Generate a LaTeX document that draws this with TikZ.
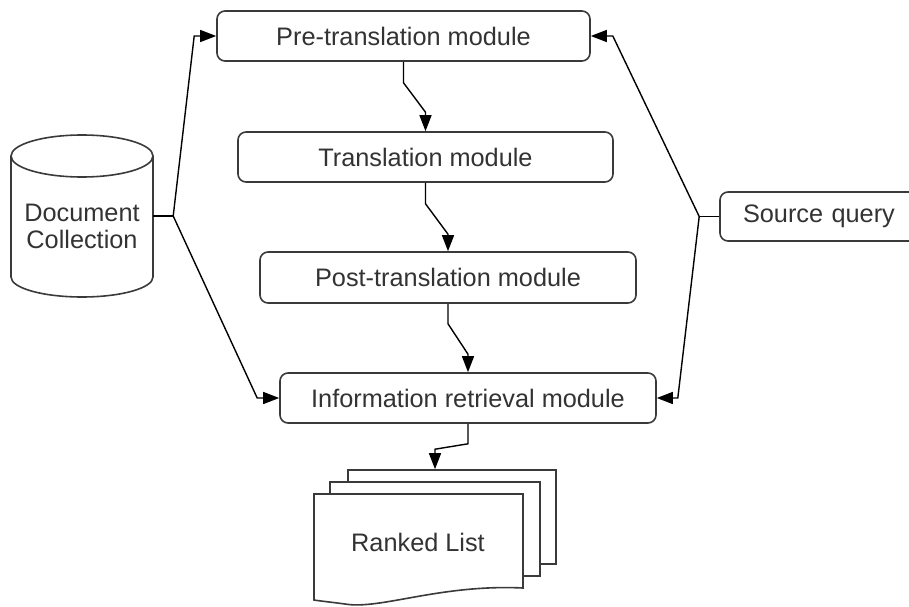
\documentclass[tikz,border=0pt]{standalone}
\usepackage{fontspec}
\setmainfont{Liberation Sans}
\usetikzlibrary{arrows.meta,calc}
\definecolor{edge}{HTML}{3A3A3A}
\definecolor{ink}{HTML}{333333}
\tikzset{
  module/.style={draw=edge, line width=1.6pt, rounded corners=8pt, fill=white,
    text=ink, font=\fontsize{25.3}{29}\selectfont, inner sep=0pt},
  conn/.style={draw=black, line width=1.4pt, -{Triangle[length=16pt,width=12pt]}},
  link/.style={draw=black, line width=1.4pt},
  page/.style={draw=edge, line width=1.6pt, fill=white},
}
\begin{document}
\begin{tikzpicture}[x=1pt,y=1pt]
\useasboundingbox (0,0) rectangle (909,606);
\clip (0,0) rectangle (909,606);

% pipeline modules
\node[module, minimum width=373pt, minimum height=50pt] (pre)   at (403.5,570) {Pre-translation module};
\node[module, minimum width=375pt, minimum height=50pt] (trans) at (425.5,449) {Translation module};
\node[module, minimum width=376pt, minimum height=51pt] (post)  at (448,328.5) {Post-translation module};
\node[module, minimum width=376pt, minimum height=50pt] (ir)    at (468,208)   {Information retrieval module};
\node[module, minimum width=215pt, minimum height=49pt, text width=215pt, align=left] (src) at (827.5,389.5)
  {\hspace*{23pt}Source query};

% document collection drawn as a cylinder
\node[minimum width=142pt, minimum height=162pt, inner sep=0pt] (doc) at (82,390) {};
\draw[page] (11,450) -- (11,329) arc[start angle=180, end angle=360, x radius=71, y radius=20]
  -- (153,450);
\draw[page] (82,450) ellipse[x radius=71, y radius=21];
\node[text=ink, font=\fontsize{25.3}{27}\selectfont, align=center] (doctext) at (82,380)
  {Document\\Collection};

% ranked list: stack of pages
\node[page, minimum width=208pt, minimum height=94pt, inner sep=0pt] (rlback) at (452,89) {};
\node[page, minimum width=210pt, minimum height=94pt, inner sep=0pt] (rlmid)  at (435,77) {};
\draw[page] (314,112) -- (523,112) -- (523,18)
  .. controls (440,22) and (380,-4) .. (345,2)
  .. controls (330,4) and (320,5) .. (314,6) -- cycle;
\node[text=ink, font=\fontsize{25.3}{29}\selectfont] (rltext) at (418,64) {Ranked List};

% inputs fanning out to the first and last module
\draw[link] (doc.east) -- ++(20,0) coordinate (dj);
\draw[conn] (dj) -- ($(pre.west)+(-22,0)$) -- (pre.west);
\draw[conn] (dj) -- ($(ir.west)+(-22,0)$) -- (ir.west);
\draw[link] (src.west) -- ++(-20,0) coordinate (sj);
\draw[conn] (sj) -- ($(pre.east)+(22,0)$) -- (pre.east);
\draw[conn] (sj) -- ($(ir.east)+(21,0)$) -- (ir.east);

% module chain
\draw[conn] (pre.south) -- ++(0,-21) -- ($(trans.north)+(0,19)$) -- (trans.north);
\draw[conn] (trans.south) -- ++(0,-21) -- ($(post.north)+(0,17)$) -- (post.north);
\draw[conn] (post.south) -- ++(0,-20) -- ($(ir.north)+(0,18)$) -- (ir.north);
\draw[conn] (ir.south) -- ++(0,-20) -- ($(rlback.north)+(-17,20)$) -- ($(rlback.north)+(-17,0)$);
\end{tikzpicture}
\end{document}
